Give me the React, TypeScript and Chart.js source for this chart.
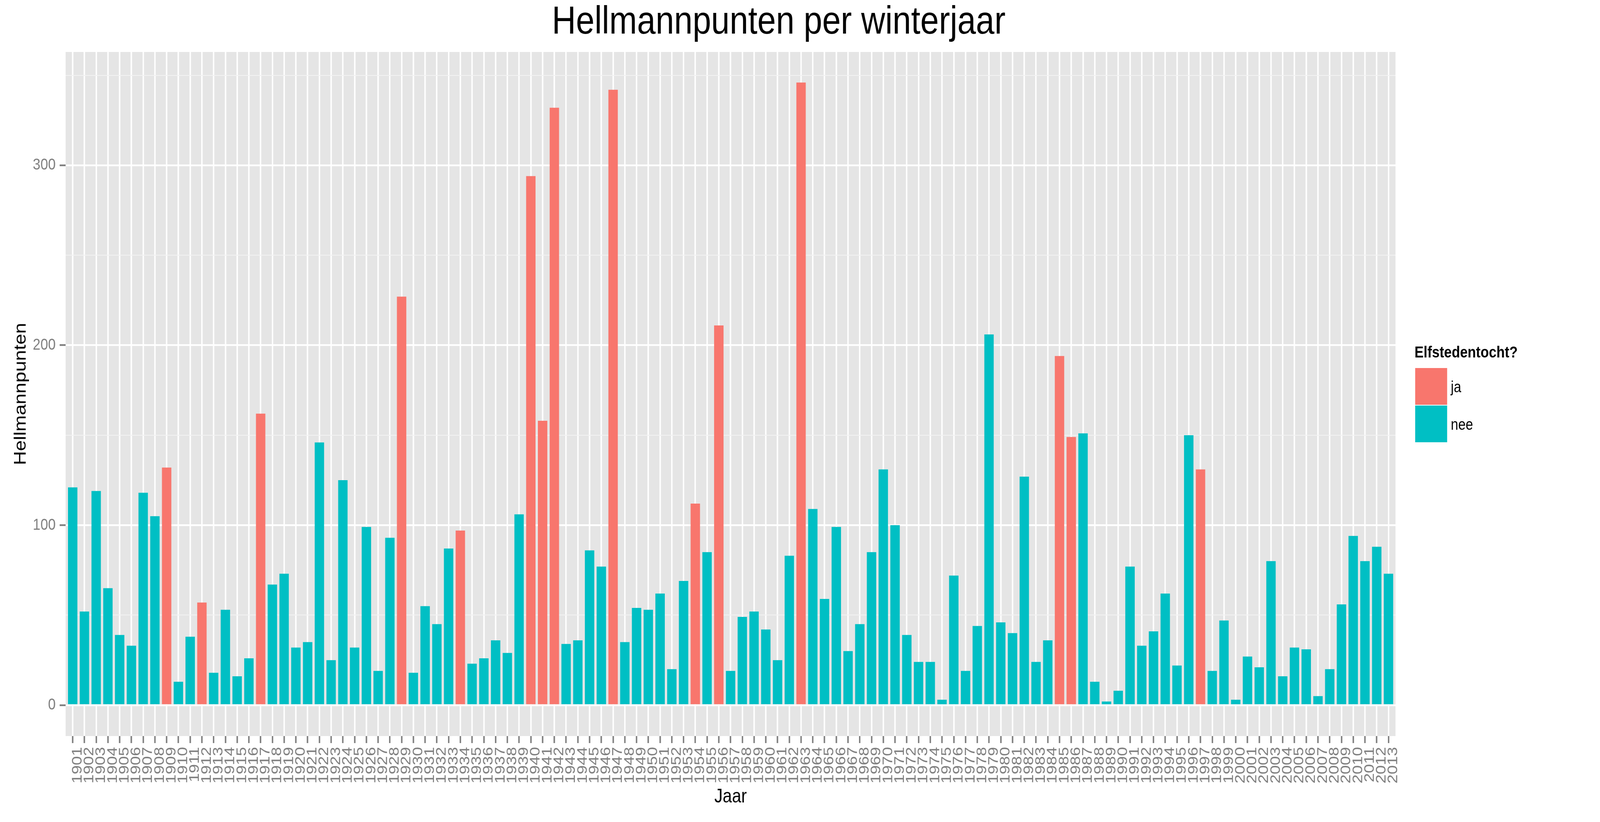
import { useEffect, useRef } from "react"
import { Chart, registerables } from "chart.js"

Chart.register(...registerables)

const FONT = '"Liberation Sans", Arial, Helvetica, sans-serif'

// winter years (x axis categories)
const years = [
  "1901", "1902", "1903", "1904", "1905", "1906", "1907", "1908", "1909", "1910",
  "1911", "1912", "1913", "1914", "1915", "1916", "1917", "1918", "1919", "1920",
  "1921", "1922", "1923", "1924", "1925", "1926", "1927", "1928", "1929", "1930",
  "1931", "1932", "1933", "1934", "1935", "1936", "1937", "1938", "1939", "1940",
  "1941", "1942", "1943", "1944", "1945", "1946", "1947", "1948", "1949", "1950",
  "1951", "1952", "1953", "1954", "1955", "1956", "1957", "1958", "1959", "1960",
  "1961", "1962", "1963", "1964", "1965", "1966", "1967", "1968", "1969", "1970",
  "1971", "1972", "1973", "1974", "1975", "1976", "1977", "1978", "1979", "1980",
  "1981", "1982", "1983", "1984", "1985", "1986", "1987", "1988", "1989", "1990",
  "1991", "1992", "1993", "1994", "1995", "1996", "1997", "1998", "1999", "2000",
  "2001", "2002", "2003", "2004", "2005", "2006", "2007", "2008", "2009", "2010",
  "2011", "2012", "2013",
]

// Hellmann points per winter year
const hellmann = [
  121, 52, 119, 65, 39, 33, 118, 105, 132, 13,
  38, 57, 18, 53, 16, 26, 162, 67, 73, 32,
  35, 146, 25, 125, 32, 99, 19, 93, 227, 18,
  55, 45, 87, 97, 23, 26, 36, 29, 106, 294,
  158, 332, 34, 36, 86, 77, 342, 35, 54, 53,
  62, 20, 69, 112, 85, 211, 19, 49, 52, 42,
  25, 83, 346, 109, 59, 99, 30, 45, 85, 131,
  100, 39, 24, 24, 3, 72, 19, 44, 206, 46,
  40, 127, 24, 36, 194, 149, 151, 13, 2, 8,
  77, 33, 41, 62, 22, 150, 131, 19, 47, 3,
  27, 21, 80, 16, 32, 31, 5, 20, 56, 94,
  80, 88, 73,
]

// winters in which an Elfstedentocht was held
const elfstedenYears = [
  "1909", "1912", "1917", "1929", "1934", "1940", "1941", "1942",
  "1947", "1954", "1956", "1963", "1985", "1986", "1997",
]

const yTicks = [0, 50, 100, 150, 200, 250, 300, 350]

const legendLabels = ["ja", "nee"]
const legendColors = ["#F8766D", "#00BFC4"]

// ggplot look: grey panel, title and legend drawn by hand
const ggplotExtras = {
  id: "ggplotExtras",
  beforeDraw(chart: Chart) {
    const { ctx, chartArea } = chart
    ctx.save()
    ctx.fillStyle = "#E5E5E5"
    ctx.fillRect(chartArea.left, chartArea.top, chartArea.right - chartArea.left, chartArea.bottom - chartArea.top)
    ctx.restore()
  },
  afterDraw(chart: Chart) {
    const { ctx } = chart
    ctx.save()
    ctx.fillStyle = "#000000"
    ctx.textBaseline = "alphabetic"

    // title
    ctx.font = `100px ${FONT}`
    ctx.textAlign = "center"
    ctx.fillText("Hellmannpunten per winterjaar", 2338, 86)

    // legend
    ctx.textAlign = "left"
    ctx.font = `bold 41px ${FONT}`
    ctx.fillText("Elfstedentocht?", 4247, 915)

    const keyX = 4249
    const keyTop = 942
    const keySize = 96
    legendLabels.forEach((label, i) => {
      ctx.fillStyle = legendColors[i]
      ctx.fillRect(keyX, keyTop + i * keySize, keySize, keySize - 2)
      ctx.fillStyle = "#000000"
      ctx.font = `40px ${FONT}`
      ctx.fillText(label, 4356, 1004 + i * keySize)
    })
    ctx.restore()
  },
}

export default function App() {
  const chartRef = useRef<HTMLCanvasElement>(null)
  const chartInstance = useRef<Chart | null>(null)

  useEffect(() => {
    if (!chartRef.current) return

    if (chartInstance.current) {
      chartInstance.current.destroy()
    }

    const ctx = chartRef.current.getContext("2d")
    if (!ctx) return

    const barColors = years.map((y) => (elfstedenYears.includes(y) ? legendColors[0] : legendColors[1]))
    const isMajor = (c: any) => c.tick && c.tick.value % 100 === 0

    chartInstance.current = new Chart(ctx, {
      type: "bar",
      data: {
        datasets: [
          {
            label: "Hellmannpunten",
            data: hellmann.map((v, i) => ({ x: i + 1, y: v })),
            backgroundColor: barColors,
            borderWidth: 0,
            categoryPercentage: 1,
            barPercentage: 0.8,
          },
        ],
      },
      plugins: [ggplotExtras],
      options: {
        responsive: false,
        devicePixelRatio: 1,
        animation: false,
        layout: {
          padding: { left: 0, top: 133, right: 614, bottom: 0 },
        },
        plugins: {
          legend: { display: false },
          title: { display: false },
          tooltip: { enabled: false },
        },
        scales: {
          x: {
            type: "linear",
            min: 0.4,
            max: years.length + 0.6,
            offset: false,
            afterBuildTicks: (axis: any) => {
              axis.ticks = years.map((_, i) => ({ value: i + 1 }))
            },
            afterFit: (axis: any) => {
              axis.height = 220
            },
            grid: {
              offset: false,
              color: "#FFFFFF",
              lineWidth: 4.4,
              drawTicks: true,
              tickLength: 18,
              tickColor: "#7F7F7F",
              tickWidth: 4.4,
            },
            border: { display: false },
            ticks: {
              autoSkip: false,
              minRotation: 90,
              maxRotation: 90,
              padding: 10,
              labelOffset: 15,
              color: "#7F7F7F",
              font: { family: FONT, size: 42 },
              callback: (value: any) => years[Math.round(value) - 1] ?? "",
            },
            title: {
              display: true,
              text: "Jaar",
              color: "#000000",
              font: { family: FONT, size: 50 },
              padding: { top: 0, bottom: 34 },
            },
          },
          y: {
            type: "linear",
            min: -17.2,
            max: 363,
            afterBuildTicks: (axis: any) => {
              axis.ticks = yTicks.map((v) => ({ value: v }))
            },
            afterFit: (axis: any) => {
              axis.width = 197
            },
            grid: {
              color: (c: any) => (isMajor(c) ? "#FFFFFF" : "#F2F2F2"),
              lineWidth: (c: any) => (isMajor(c) ? 4.4 : 2.2),
              drawTicks: true,
              tickLength: 18,
              tickColor: (c: any) => (isMajor(c) ? "#7F7F7F" : "rgba(0,0,0,0)"),
              tickWidth: 4.4,
            },
            border: { display: false },
            ticks: {
              padding: 12,
              color: "#7F7F7F",
              font: { family: FONT, size: 41 },
              callback: (value: any) => (value % 100 === 0 ? String(value) : ""),
            },
            title: {
              display: true,
              text: "Hellmannpunten",
              color: "#000000",
              font: { family: FONT, size: 50 },
              padding: { top: 33, bottom: 0 },
            },
          },
        },
      },
    })

    return () => {
      if (chartInstance.current) {
        chartInstance.current.destroy()
        chartInstance.current = null
      }
    }
  }, [])

  // bitmap stays 4804x2104; CSS stretches it over the whole viewport
  return (
    <div style={{ position: "fixed", left: 0, top: 0, width: "100vw", height: "100vh", overflow: "hidden", background: "#FFFFFF" }}>
      <canvas ref={chartRef} width={4804} height={2104} style={{ display: "block", width: "100vw", height: "100vh" }} />
    </div>
  )
}
